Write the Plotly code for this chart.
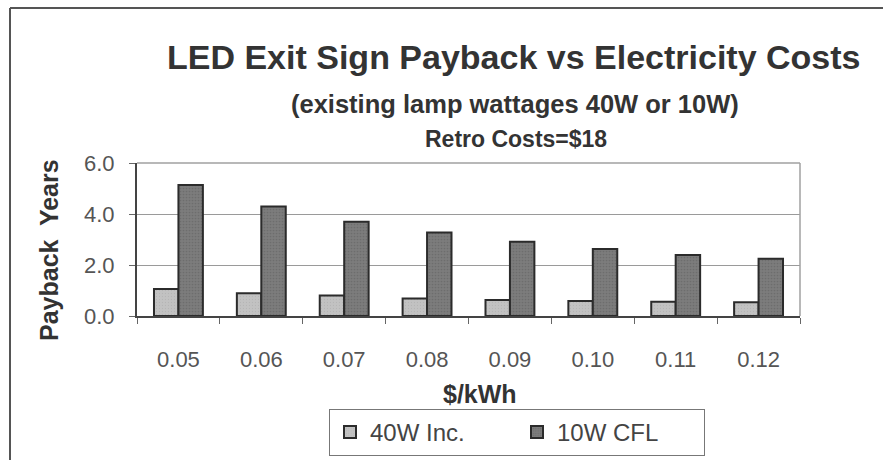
import plotly.graph_objects as go

# Electricity price categories ($/kWh)
prices = ["0.05", "0.06", "0.07", "0.08", "0.09", "0.10", "0.11", "0.12"]
# Payback years for replacing each existing lamp with an LED exit sign
payback_40w_inc = [1.06, 0.89, 0.80, 0.69, 0.63, 0.59, 0.56, 0.54]
payback_10w_cfl = [5.14, 4.29, 3.70, 3.27, 2.91, 2.63, 2.39, 2.25]
y_ticks = [0, 2, 4, 6]

W, H = 883, 460
L, R, T, B = 137, 83, 163, 144
pw, ph = W - L - R, H - T - B


def px_x(px):
    return (px - L) / pw


def px_y(py):
    return (H - B - py) / ph


FONT = "Liberation Sans, Arial, sans-serif"
TXT = "#333333"

fig = go.Figure()
fig.add_trace(go.Bar(
    x=prices, y=payback_40w_inc, name="40W Inc.",
    marker=dict(color="#c2c2c2", line=dict(color="#2b2b2b", width=2),
                pattern=dict(shape=".", size=3, solidity=0.15, fgcolor="#a8a8a8")),
))
fig.add_trace(go.Bar(
    x=prices, y=payback_10w_cfl, name="10W CFL",
    marker=dict(color="#7c7c7c", line=dict(color="#2b2b2b", width=2),
                pattern=dict(shape=".", size=3, solidity=0.25, fgcolor="#5e5e5e")),
))

fig.update_layout(
    width=W, height=H,
    margin=dict(l=L, r=R, t=T, b=B, pad=0),
    paper_bgcolor="white", plot_bgcolor="white",
    font=dict(family=FONT, color=TXT),
    barmode="group", bargap=0.41, bargroupgap=0.0,
    showlegend=True,
    legend=dict(
        orientation="h", x=517 / W, xref="container", xanchor="center",
        y=1 - 409 / H, yref="container", yanchor="top",
        bordercolor="#777777", borderwidth=1, bgcolor="white",
        font=dict(size=24, color="#444444", family=FONT),
        entrywidth=142, itemsizing="constant",
    ),
    xaxis=dict(
        type="category", showgrid=False,
        showline=True, linecolor="#444444", linewidth=2, mirror=False,
        ticks="outside", tickson="boundaries", ticklen=6, tickcolor="#666666",
        tickfont=dict(size=22, color="#555555"), ticklabelstandoff=23,
    ),
    yaxis=dict(
        range=[0, 6], tickvals=y_ticks, tickformat=".1f",
        showgrid=True, gridcolor="#9a9a9a", gridwidth=1,
        showline=True, linecolor="#444444", linewidth=2, mirror=False,
        ticks="outside", ticklen=6, tickcolor="#666666",
        tickfont=dict(size=22, color="#555555"), ticklabelstandoff=10,
        zeroline=False,
    ),
    shapes=[
        # plot frame (top and right)
        dict(type="line", xref="paper", yref="paper", x0=0, x1=1, y0=1, y1=1,
             line=dict(color="#a0a0a0", width=1.5)),
        dict(type="line", xref="paper", yref="paper", x0=1, x1=1, y0=0, y1=1,
             line=dict(color="#a0a0a0", width=1.5)),
        # outer chart border
        dict(type="line", xref="paper", yref="paper", x0=px_x(10), x1=px_x(883),
             y0=px_y(8), y1=px_y(8), line=dict(color="#555555", width=2)),
        dict(type="line", xref="paper", yref="paper", x0=px_x(10), x1=px_x(10),
             y0=px_y(8), y1=px_y(460), line=dict(color="#555555", width=2)),
    ],
    annotations=[
        dict(text="<b>LED Exit Sign Payback vs Electricity Costs</b>",
             xref="paper", yref="paper", x=px_x(514), y=px_y(57),
             xanchor="center", yanchor="middle", showarrow=False,
             font=dict(size=34, color=TXT)),
        dict(text="<b>(existing lamp wattages 40W or 10W)</b>",
             xref="paper", yref="paper", x=px_x(515), y=px_y(104),
             xanchor="center", yanchor="middle", showarrow=False,
             font=dict(size=25.5, color=TXT)),
        dict(text="<b>Retro Costs=$18</b>",
             xref="paper", yref="paper", x=px_x(516), y=px_y(139),
             xanchor="center", yanchor="middle", showarrow=False,
             font=dict(size=23, color=TXT)),
        dict(text="<b>$/kWh</b>",
             xref="paper", yref="paper", x=px_x(480), y=px_y(394),
             xanchor="center", yanchor="middle", showarrow=False,
             font=dict(size=25, color=TXT)),
        dict(text="<b>Payback  Years</b>",
             xref="paper", yref="paper", x=px_x(49), y=px_y(250),
             xanchor="center", yanchor="middle", showarrow=False, textangle=-90,
             font=dict(size=25, color=TXT)),
    ],
)

fig.write_html("out.html")
